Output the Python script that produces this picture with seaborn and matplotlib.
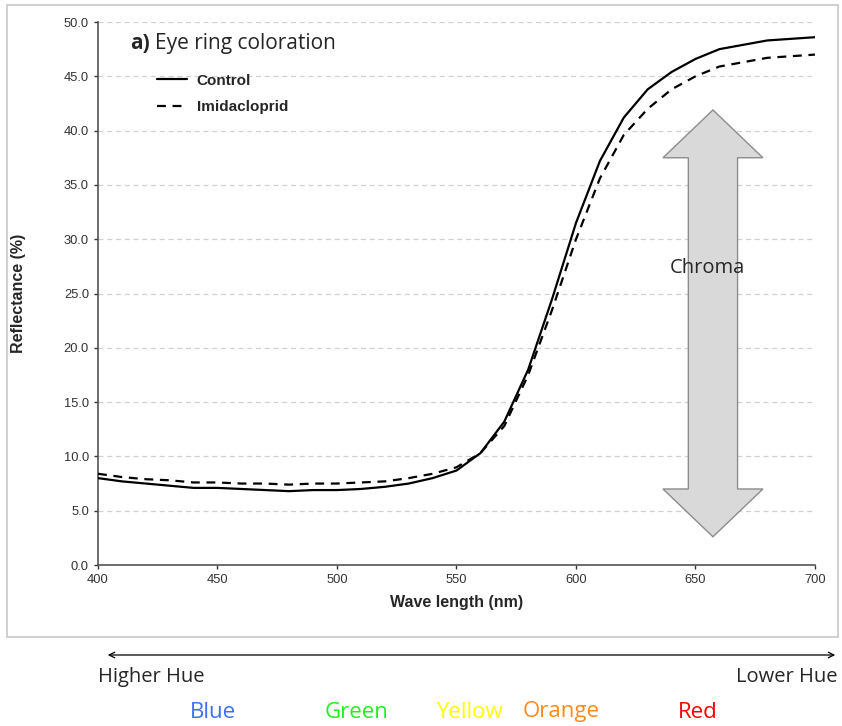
import numpy as np
import pandas as pd
import matplotlib.pyplot as plt
import matplotlib.patches as mpatches
import seaborn as sns

sns.set_style("white")
plt.rcParams['font.family'] = ['Liberation Sans', 'DejaVu Sans']

# reflectance spectra
wavelength = [400, 410, 420, 430, 440, 450, 460, 470, 480, 490, 500, 510, 520,
              530, 540, 550, 560, 570, 580, 590, 600, 610, 620, 630, 640, 650,
              660, 680, 700]
control = [8.0, 7.7, 7.5, 7.3, 7.1, 7.1, 7.0, 6.9, 6.8, 6.9, 6.9, 7.0, 7.2,
           7.5, 8.0, 8.7, 10.3, 13.2, 18.0, 24.5, 31.5, 37.2, 41.2, 43.8, 45.4,
           46.6, 47.5, 48.3, 48.6]
imidacloprid = [8.4, 8.1, 7.9, 7.8, 7.6, 7.6, 7.5, 7.5, 7.4, 7.5, 7.5, 7.6, 7.7,
                8.0, 8.4, 9.0, 10.3, 12.8, 17.5, 23.5, 30.0, 35.6, 39.6, 42.0, 43.8,
                45.0, 45.9, 46.7, 47.0]
treatments = ["Control", "Imidacloprid"]

hue_words = ["Blue", "Green", "Yellow", "Orange", "Red"]
hue_colors = ["#3e6ff7", "#22ee22", "#ffff00", "#ff8a1c", "#ff0000"]
hue_x = [213, 357, 469, 561, 698]  # pixel centres under the chart

df = pd.DataFrame({
    "wavelength": wavelength * 2,
    "reflectance": control + imidacloprid,
    "group": [treatments[0]] * len(control) + [treatments[1]] * len(imidacloprid),
})

W, H = 842, 726
fig = plt.figure(figsize=(W / 100, H / 100), dpi=100)
ax = fig.add_axes([98 / W, 1 - 565 / H, (815 - 98) / W, (565 - 22) / H])
humanist = ["Open Sans", "DejaVu Sans"]

# grey frame around chart
fig.patches.append(mpatches.Rectangle((7 / W, 1 - 637 / H), 831 / W, 632 / H,
                                      transform=fig.transFigure, fill=False,
                                      edgecolor="#c8c8c8", lw=1.2))

ax.yaxis.grid(True, color="#d0d0d0", linestyle=(0, (4, 3)), lw=0.9)
ax.set_axisbelow(True)

# chroma arrow
cx, sw, hw = 657.3, 10.3, 20.9
top, ts, bs, bot = 41.9, 37.5, 7.0, 2.6
pts = [(cx, top), (cx + hw, ts), (cx + sw, ts), (cx + sw, bs), (cx + hw, bs),
       (cx, bot), (cx - hw, bs), (cx - sw, bs), (cx - sw, ts), (cx - hw, ts)]
ax.add_patch(mpatches.Polygon(pts, closed=True, facecolor="#d9d9d9",
                              edgecolor="#8c8c8c", lw=1, zorder=1))
ax.text(654.8, 27.35, "Chroma", fontsize=14.5, family=humanist,
        ha="center", va="center", zorder=3)

sns.lineplot(data=df, x="wavelength", y="reflectance", style="group",
             dashes={"Control": "", "Imidacloprid": (4, 3)}, color="black",
             lw=1.6, ax=ax, legend=False, zorder=4)

ax.set_xlim(400, 700)
ax.set_ylim(0, 50)
ax.set_xticks(np.arange(400, 701, 50))
ax.set_yticks(np.arange(0, 50.1, 5))
ax.set_yticklabels([f"{v:.1f}" for v in np.arange(0, 50.1, 5)])
ax.tick_params(axis="both", labelsize=9.3, colors="#333333", length=3, width=1,
               direction="out", left=True, bottom=True)
for s in ["top", "right"]:
    ax.spines[s].set_visible(False)
for s in ["left", "bottom"]:
    ax.spines[s].set_color("#555555")
    ax.spines[s].set_linewidth(1.2)
ax.set_xlabel("Wave length (nm)", fontsize=11.5, fontweight="bold")
ax.set_ylabel("Reflectance (%)", fontsize=11.5, fontweight="bold")
ax.xaxis.set_label_coords(0.5, -0.055)
ax.yaxis.set_label_coords(-0.101, 0.5)

# title inside plot
ax.text(0.045, 0.96, "a)", transform=ax.transAxes, fontsize=15, fontweight="bold",
        family=humanist, va="center")
ax.text(0.079, 0.96, "Eye ring coloration", transform=ax.transAxes, fontsize=15,
        family=humanist, va="center")

# legend
handles = [plt.Line2D([], [], color="black", lw=1.6),
           plt.Line2D([], [], color="black", lw=1.6, dashes=(4, 3))]
ax.legend(handles, treatments, loc="upper left", bbox_to_anchor=(0.063, 0.93),
          frameon=False, prop={"weight": "bold", "size": 11}, handlelength=2.0,
          handletextpad=0.6, labelspacing=0.8)

# hue scale under chart
fig.patches.append(mpatches.FancyArrowPatch((105 / W, 1 - 655 / H), (838 / W, 1 - 655 / H),
                                            transform=fig.transFigure,
                                            arrowstyle="<->", mutation_scale=10,
                                            color="black", lw=0.9))
fig.text(98 / W, 1 - 677 / H, "Higher Hue", fontsize=14.5, family=humanist,
         ha="left", va="center")
fig.text(838 / W, 1 - 677 / H, "Lower Hue", fontsize=14.5, family=humanist,
         ha="right", va="center")
for word, col, px in zip(hue_words, hue_colors, hue_x):
    fig.text(px / W, 1 - 712 / H, word, fontsize=16, color=col,
             family=humanist, ha="center", va="center")

fig.savefig("out.png", dpi=100)
